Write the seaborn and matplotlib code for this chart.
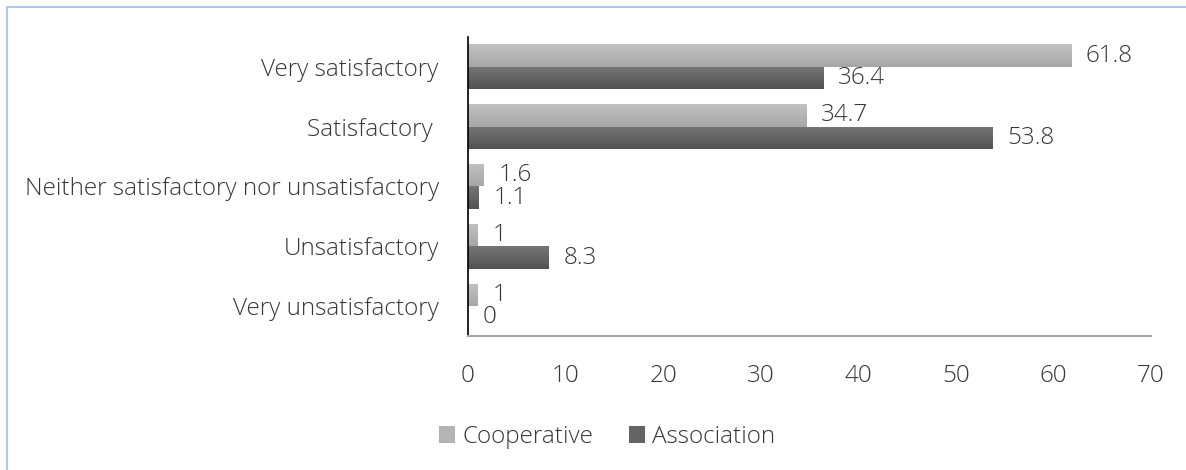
import numpy as np
import pandas as pd
import matplotlib
matplotlib.use("Agg")
import matplotlib.pyplot as plt
import seaborn as sns
from matplotlib.patches import Rectangle
from matplotlib.lines import Line2D

categories = ["Very satisfactory", "Satisfactory ", "Neither satisfactory nor unsatisfactory",
              "Unsatisfactory", "Very unsatisfactory"]
series = ["Cooperative", "Association"]
cooperative = [61.8, 34.7, 1.6, 1, 1]
association = [36.4, 53.8, 1.1, 8.3, 0]
x_ticks = [0, 10, 20, 30, 40, 50, 60, 70]

df = pd.DataFrame({
    "category": categories * 2,
    "series": [series[0]] * len(categories) + [series[1]] * len(categories),
    "value": cooperative + association,
})

sns.set_theme(style="white")
plt.rcParams["font.family"] = ["Open Sans", "DejaVu Sans"]
text_color = "#383838"
fs = 17.5

fig = plt.figure(figsize=(11.86, 4.70), dpi=100)
ax = fig.add_axes([0.3946, 0.2851, 0.5759, 0.6362])

mid_colors = {"Cooperative": "#b4b4b4", "Association": "#646464"}
grad = {"Cooperative": ("#c2c2c2", "#a6a6a6"), "Association": ("#767676", "#525252")}

sns.barplot(data=df, y="category", x="value", hue="series", order=categories,
            hue_order=series, palette=mid_colors, orient="h", width=0.75,
            ax=ax, legend=False, saturation=1)

ax.set_xlim(0, 70)
ax.set_ylim(4.5, -0.5)
ax.set_xticks(x_ticks)
ax.set_xlabel("")
ax.set_ylabel("")
ax.tick_params(axis="both", length=0, labelsize=fs, colors=text_color)
ax.tick_params(axis="x", pad=20)
ax.tick_params(axis="y", pad=21)
for lab in ax.get_xticklabels() + ax.get_yticklabels():
    lab.set_fontweight("light")

for side in ["top", "right"]:
    ax.spines[side].set_visible(False)
ax.spines["left"].set_color("#000000")
ax.spines["left"].set_linewidth(1.2)
ax.spines["bottom"].set_color("#a6a6a6")
ax.spines["bottom"].set_linewidth(1.5)

# vertical gradient fill for each bar, plus value labels
def gradient_fill(patch, top_c, bot_c):
    x0, y0 = patch.get_x(), patch.get_y()
    w, h = patch.get_width(), patch.get_height()
    if w <= 0:
        return
    c1 = np.array(matplotlib.colors.to_rgb(top_c))
    c2 = np.array(matplotlib.colors.to_rgb(bot_c))
    t = np.linspace(0, 1, 64)[:, None]
    img = (c1 * (1 - t) + c2 * t)[:, None, :]
    im = ax.imshow(img, extent=[x0, x0 + w, y0 + h, y0], aspect="auto",
                   origin="upper", zorder=patch.get_zorder() + 0.1,
                   interpolation="bilinear")
    im.set_clip_path(patch)

patches = sorted(ax.patches, key=lambda p: p.get_y())
for i, p in enumerate(patches):
    s = series[i % 2]
    gradient_fill(p, *grad[s])
    val = p.get_width()
    label = f"{val:g}"
    ax.annotate(label, xy=(val, p.get_y() + p.get_height() / 2),
                xytext=(10.5, 0), textcoords="offset points",
                ha="left", va="center", fontsize=fs, fontweight="light",
                color=text_color, zorder=5)

ax.set_xlim(0, 70)
ax.set_ylim(4.5, -0.5)

handles = [Rectangle((0, 0), 1, 1, facecolor=mid_colors[s], edgecolor="none") for s in series]
fig.legend(handles, series, loc="center", bbox_to_anchor=(0.512, 0.07), ncol=2,
           frameon=False, handlelength=0.65, handleheight=0.65,
           handletextpad=0.3, columnspacing=1.5, labelcolor=text_color,
           prop={"weight": "light", "size": fs})

# outer frame lines on left and top
fig.add_artist(Line2D([0.0063, 0.0063], [0, 0.985], transform=fig.transFigure,
                      color="#b4c7e7", lw=1.5))
fig.add_artist(Line2D([0.0063, 1.0], [0.985, 0.985], transform=fig.transFigure,
                      color="#b4c7e7", lw=1.5))

fig.savefig("out.png", dpi=100, facecolor="white")
